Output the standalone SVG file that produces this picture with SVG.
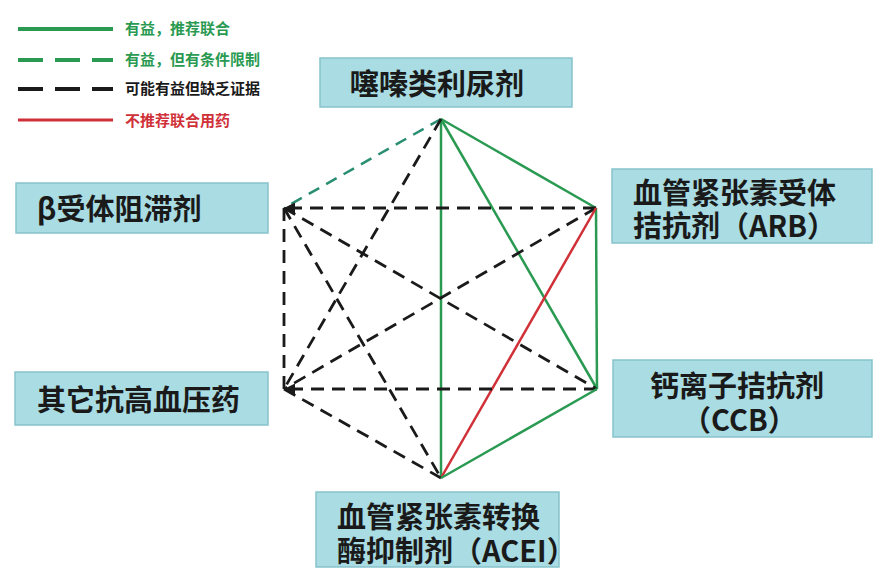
<svg xmlns="http://www.w3.org/2000/svg" width="880" height="588" viewBox="0 0 880 588">
<style>
.box{fill:#a9dce3;stroke:#86c3cc;stroke-width:1.5}
.t{font-family:"Noto Sans CJK SC","Noto Sans",sans-serif;font-weight:bold;font-size:29px;fill:#1a1a1a}
.lg{font-family:"Noto Sans CJK SC","Noto Sans",sans-serif;font-weight:bold;font-size:15px}
.g{stroke:#2a9a52;stroke-width:2.5;fill:none}
.gd{stroke:#2a8f72;stroke-width:2.5;stroke-dasharray:12 8;fill:none}
.k{stroke:#1a1a1a;stroke-width:2.8;stroke-dasharray:13 8;fill:none}
.r{stroke:#d03038;stroke-width:2.5;fill:none}
</style>
<defs>
<marker id="ah" viewBox="0 0 10 10" refX="9" refY="5" markerWidth="4" markerHeight="4" orient="auto"><path d="M0,0L10,5L0,10z" fill="#1a1a1a"/></marker>
</defs>
<rect width="880" height="588" fill="#ffffff"/>
<g id="legend">
<line x1="18" y1="29" x2="113" y2="29" stroke="#2a9a52" stroke-width="4"/>
<line x1="18" y1="60" x2="113" y2="60" stroke="#2a9a52" stroke-width="4" stroke-dasharray="25 12"/>
<line x1="18" y1="89" x2="113" y2="89" stroke="#1a1a1a" stroke-width="4" stroke-dasharray="25 12"/>
<line x1="18" y1="120" x2="113" y2="120" stroke="#d03038" stroke-width="3"/>
<text class="lg" x="125" y="34" fill="#2a9a52">有益，推荐联合</text>
<text class="lg" x="125" y="65" fill="#2a9a52">有益，但有条件限制</text>
<text class="lg" x="125" y="94" fill="#1a1a1a">可能有益但缺乏证据</text>
<text class="lg" x="125" y="126" fill="#d03038">不推荐联合用药</text>
</g>
<g id="connectors">
<line class="gd" x1="441" y1="119" x2="284" y2="208"/>
<line class="g" x1="441" y1="119" x2="596" y2="208"/>
<line class="g" x1="441" y1="119" x2="441" y2="478"/>
<line class="g" x1="441" y1="119" x2="597" y2="389"/>
<line class="k" x1="441" y1="119" x2="284" y2="389"/>
<line class="k" x1="596" y1="208" x2="285" y2="208" marker-end="url(#ah)"/>
<line class="k" x1="284" y1="208" x2="284" y2="389"/>
<line class="k" x1="284" y1="208" x2="597" y2="389"/>
<line class="k" x1="284" y1="208" x2="441" y2="478"/>
<line class="k" x1="596" y1="208" x2="284" y2="389"/>
<line class="g" x1="596" y1="208" x2="597" y2="389"/>
<line class="r" x1="596" y1="208" x2="441" y2="478"/>
<line class="k" x1="597" y1="389" x2="285" y2="389" marker-end="url(#ah)"/>
<line class="k" x1="284" y1="389" x2="441" y2="478"/>
<line class="g" x1="597" y1="389" x2="441" y2="478"/>
</g>
<g id="node-thiazide">
<rect class="box" x="320" y="58" width="252" height="49"/>
<text class="t" x="350" y="95">噻嗪类利尿剂</text>
</g>
<g id="node-beta">
<rect class="box" x="16" y="183" width="252" height="50"/>
<text class="t" x="37" y="220">β受体阻滞剂</text>
</g>
<g id="node-arb">
<rect class="box" x="612" y="169" width="260" height="74"/>
<text class="t"><tspan x="633" y="204">血管紧张素受体</tspan><tspan x="633" y="237">拮抗剂（ARB）</tspan></text>
</g>
<g id="node-ccb">
<rect class="box" x="613" y="360" width="259" height="77"/>
<text class="t"><tspan x="650" y="397">钙离子拮抗剂</tspan><tspan x="682" y="431">（CCB）</tspan></text>
</g>
<g id="node-other">
<rect class="box" x="15" y="372" width="253" height="53"/>
<text class="t" x="37" y="411">其它抗高血压药</text>
</g>
<g id="node-acei">
<rect class="box" x="316" y="492" width="243" height="75"/>
<text class="t"><tspan x="337" y="528">血管紧张素转换</tspan><tspan x="337" y="562">酶抑制剂（ACEI）</tspan></text>
</g>
</svg>
